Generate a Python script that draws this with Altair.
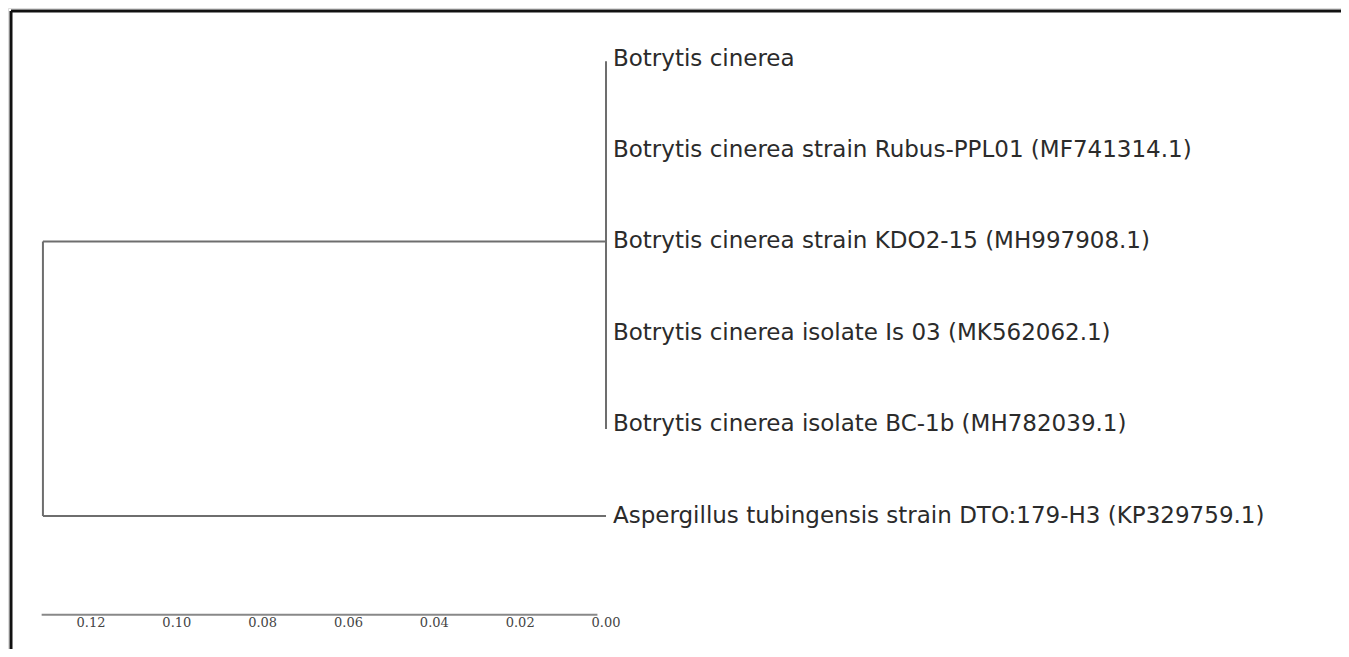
import altair as alt
import pandas as pd

# ---- data ----
taxa = [
    "Botrytis cinerea",
    "Botrytis cinerea strain Rubus-PPL01 (MF741314.1)",
    "Botrytis cinerea strain KDO2-15 (MH997908.1)",
    "Botrytis cinerea isolate Is 03 (MK562062.1)",
    "Botrytis cinerea isolate BC-1b (MH782039.1)",
    "Aspergillus tubingensis strain DTO:179-H3 (KP329759.1)",
]
leaf_row = [0, 1, 2, 3, 4, 5]
leaf_dist = [0.0, 0.0, 0.0, 0.0, 0.0, 0.0]
root_height = 0.1312
clade_height = 0.0
clade_row = 2
scale_ticks = [0.12, 0.10, 0.08, 0.06, 0.04, 0.02, 0.00]
scale_labels = ["0.12", "0.10", "0.08", "0.06", "0.04", "0.02", "0.00"]
scale_row = 6.08
scale_start = 0.1315
scale_end = 0.002

# scale domains (plot area 1333 x 641 px)
x_dom = [-0.17126, 0.13934]
y_dom = [-0.552, 6.454]
frame_x = 0.13864
frame_y = -0.519

xs = alt.Scale(domain=x_dom, reverse=True)
ys = alt.Scale(domain=y_dom, reverse=True)

# ---- branches ----
edges = pd.DataFrame([
    {"x": root_height, "x2": root_height, "y": clade_row, "y2": leaf_row[5]},
    {"x": root_height, "x2": clade_height, "y": clade_row, "y2": clade_row},
    {"x": root_height, "x2": leaf_dist[5], "y": leaf_row[5], "y2": leaf_row[5]},
    {"x": clade_height, "x2": clade_height, "y": leaf_row[0] + 0.03, "y2": leaf_row[4] + 0.05},
])

branches = alt.Chart(edges).mark_rule(color="#6e6e6e", strokeWidth=2).encode(
    x=alt.X("x:Q", scale=xs, axis=None),
    x2="x2:Q",
    y=alt.Y("y:Q", scale=ys, axis=None),
    y2="y2:Q",
)

leaves = pd.DataFrame({"name": taxa, "row": leaf_row, "dist": leaf_dist})
labels = alt.Chart(leaves).mark_text(
    align="left", baseline="middle", dx=7, fontSize=23,
    font="DejaVu Sans", color="#2b2b2b",
).encode(
    x=alt.X("dist:Q", scale=xs, axis=None),
    y=alt.Y("row:Q", scale=ys, axis=None),
    text="name:N",
)

# ---- scale bar ----
bar_df = pd.DataFrame({"x": [scale_start], "x2": [scale_end], "y": [scale_row]})
bar = alt.Chart(bar_df).mark_rule(color="#888888", strokeWidth=2).encode(
    x=alt.X("x:Q", scale=xs, axis=None),
    x2="x2:Q",
    y=alt.Y("y:Q", scale=ys, axis=None),
)
tick_df = pd.DataFrame({"v": scale_ticks, "t": scale_labels, "y": [scale_row] * len(scale_ticks)})
tick_text = alt.Chart(tick_df).mark_text(
    align="center", baseline="top", dy=2, fontSize=13,
    font="DejaVu Serif", color="#444444",
).encode(
    x=alt.X("v:Q", scale=xs, axis=None),
    y=alt.Y("y:Q", scale=ys, axis=None),
    text="t:N",
)

# ---- frame (top and left border of the figure) ----
frame = pd.DataFrame([
    {"x": frame_x, "x2": x_dom[0], "y": frame_y, "y2": frame_y},
    {"x": frame_x, "x2": frame_x, "y": frame_y, "y2": y_dom[1]},
])
frame_rules = alt.Chart(frame).mark_rule(color="#111111", strokeWidth=3).encode(
    x=alt.X("x:Q", scale=xs, axis=None),
    x2="x2:Q",
    y=alt.Y("y:Q", scale=ys, axis=None),
    y2="y2:Q",
)

chart = alt.layer(frame_rules, branches, labels, bar, tick_text).properties(
    width=1333, height=641, padding=0, autosize="none",
).configure_view(stroke=None).configure(background="white")

chart.save("out.html", embed_options={"renderer": "svg", "actions": False})
